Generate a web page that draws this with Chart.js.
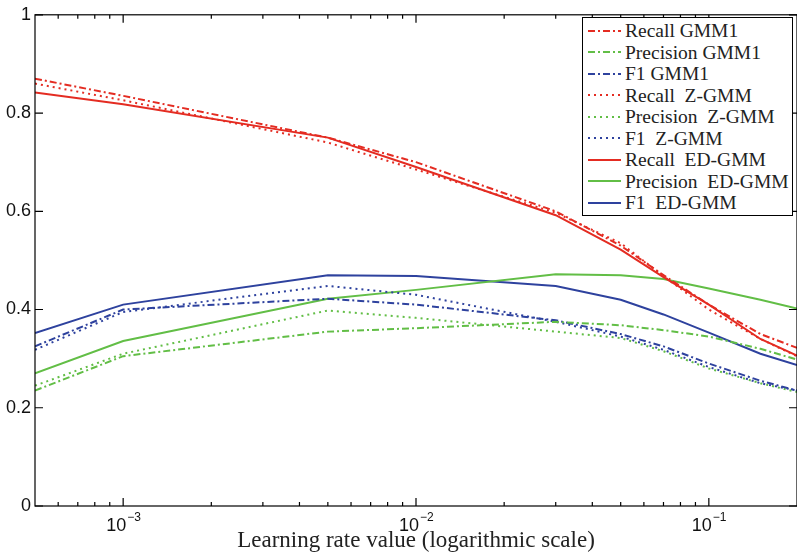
<!DOCTYPE html>
<html>
<head>
<meta charset="utf-8">
<script src="https://cdn.jsdelivr.net/npm/chart.js@4.4.0/dist/chart.umd.min.js"></script>
<style>
html, body { margin: 0; padding: 0; background: #fff; }
#wrap { position: relative; width: 797px; height: 558px; overflow: hidden; }
#legend {
    position: absolute; left: 582px; top: 17px; width: 211px; height: 199px;
    border: 1px solid #000; background: #fff; box-sizing: border-box;
    font-family: "Liberation Serif", serif; font-size: 19.5px; color: #222;
    padding-top: 2px;
}
#legend .row { height: 21.5px; line-height: 21.5px; white-space: pre; display: flex; align-items: center; }
#legend svg { margin-left: 5px; margin-right: 4px; flex: none; }
</style>
</head>
<body>
<div id="wrap">
    <canvas id="chart" width="797" height="558"></canvas>
    <div id="legend"></div>
</div>
<script>
// learning rates (x)
const xValues = [0.0005, 0.001, 0.005, 0.01, 0.03, 0.05, 0.07, 0.1, 0.15, 0.2];

// GMM1
const recallGMM1    = [0.870, 0.835, 0.750, 0.700, 0.600, 0.530, 0.470, 0.410, 0.350, 0.322];
const precisionGMM1 = [0.235, 0.305, 0.355, 0.362, 0.375, 0.368, 0.358, 0.345, 0.320, 0.298];
const f1GMM1        = [0.325, 0.400, 0.422, 0.410, 0.378, 0.350, 0.325, 0.290, 0.255, 0.235];
// Z-GMM
const recallZGMM    = [0.860, 0.826, 0.740, 0.685, 0.597, 0.535, 0.468, 0.400, 0.340, 0.305];
const precisionZGMM = [0.245, 0.310, 0.398, 0.383, 0.355, 0.342, 0.315, 0.280, 0.250, 0.232];
const f1ZGMM        = [0.318, 0.395, 0.448, 0.430, 0.375, 0.345, 0.318, 0.283, 0.250, 0.235];
// ED-GMM
const recallEDGMM    = [0.842, 0.818, 0.750, 0.690, 0.592, 0.522, 0.466, 0.410, 0.340, 0.306];
const precisionEDGMM = [0.270, 0.336, 0.422, 0.440, 0.472, 0.470, 0.462, 0.443, 0.420, 0.402];
const f1EDGMM        = [0.352, 0.410, 0.470, 0.468, 0.448, 0.420, 0.390, 0.353, 0.310, 0.287];

const seriesNames = ['Recall GMM1', 'Precision GMM1', 'F1 GMM1',
    'Recall  Z-GMM', 'Precision  Z-GMM', 'F1  Z-GMM',
    'Recall  ED-GMM', 'Precision  ED-GMM', 'F1  ED-GMM'];
const seriesValues = [recallGMM1, precisionGMM1, f1GMM1,
    recallZGMM, precisionZGMM, f1ZGMM,
    recallEDGMM, precisionEDGMM, f1EDGMM];

const yTicks = [0, 0.2, 0.4, 0.6, 0.8, 1];
const xLabelExps = [-3, -2, -1];

const RED = 'rgb(228,44,34)';
const GREEN = 'rgb(98,190,70)';
const BLUE = 'rgb(46,66,158)';
const colors = [RED, GREEN, BLUE];
const dashDot = [7, 3, 2, 3];
const dotted = [2, 4];
const styles = [dashDot, dotted, []];

const datasets = seriesValues.map(function (vals, i) {
    return {
        label: seriesNames[i],
        data: vals.map(function (v, j) { return { x: xValues[j], y: v }; }),
        borderColor: colors[i % 3],
        borderDash: styles[Math.floor(i / 3)],
        borderWidth: 2,
        pointRadius: 0,
        tension: 0,
        fill: false
    };
});

// box around the axes with inward ticks, like matlab
const boxPlugin = {
    id: 'boxPlugin',
    afterDraw(chart) {
        const ctx = chart.ctx;
        const a = chart.chartArea;
        const x = chart.scales.x, y = chart.scales.y;
        ctx.save();
        ctx.strokeStyle = '#000';
        ctx.lineWidth = 1.2;
        ctx.strokeRect(a.left, a.top, a.right - a.left, a.bottom - a.top);
        ctx.beginPath();
        yTicks.forEach(function (v) {
            const py = y.getPixelForValue(v);
            ctx.moveTo(a.left, py); ctx.lineTo(a.left + 8, py);
            ctx.moveTo(a.right, py); ctx.lineTo(a.right - 8, py);
        });
        for (let e = -4; e <= -1; e++) {
            for (let m = 1; m <= 9; m++) {
                const v = m * Math.pow(10, e);
                if (v < x.min * 1.001 || v > x.max * 0.999) continue;
                const px = x.getPixelForValue(v);
                const len = m === 1 ? 8 : 4;
                ctx.moveTo(px, a.bottom); ctx.lineTo(px, a.bottom - len);
                ctx.moveTo(px, a.top); ctx.lineTo(px, a.top + len);
            }
        }
        ctx.stroke();

        ctx.fillStyle = '#111';
        ctx.textBaseline = 'alphabetic';
        xLabelExps.forEach(function (e) {
            const px = x.getPixelForValue(Math.pow(10, e));
            ctx.font = '18px "Liberation Sans", sans-serif';
            ctx.textAlign = 'right';
            ctx.fillText('10', px + 3, a.bottom + 25);
            ctx.font = '12px "Liberation Sans", sans-serif';
            ctx.textAlign = 'left';
            ctx.fillText('\u2212' + String(-e), px + 4, a.bottom + 15);
        });
        ctx.restore();
    }
};

new Chart(document.getElementById('chart').getContext('2d'), {
    type: 'line',
    data: { datasets: datasets },
    options: {
        responsive: false,
        animation: false,
        layout: { padding: { top: 11, right: -2, left: 0, bottom: 0 } },
        plugins: { legend: { display: false }, tooltip: { enabled: false } },
        scales: {
            x: {
                type: 'logarithmic',
                min: 0.0005,
                max: 0.2,
                grid: { display: false },
                border: { display: false },
                ticks: { display: false },
                title: {
                    display: true,
                    text: 'Learning rate value (logarithmic scale)',
                    font: { family: '"Liberation Serif", serif', size: 23 },
                    color: '#222',
                    padding: { top: 0, bottom: 3 }
                },
                afterFit: function (scale) { scale.height = 52; }
            },
            y: {
                min: 0,
                max: 1,
                grid: { display: false, drawTicks: false },
                border: { display: false },
                afterBuildTicks: function (scale) {
                    scale.ticks = yTicks.map(function (v) { return { value: v }; });
                },
                ticks: {
                    padding: 4,
                    color: '#111',
                    font: { family: '"Liberation Sans", sans-serif', size: 18 },
                    callback: function (v) { return (v === 0 || v === 1) ? String(v) : v.toFixed(1); }
                },
                afterFit: function (scale) { scale.width = 35; }
            }
        }
    },
    plugins: [boxPlugin]
});

// legend drawn as html
const legend = document.getElementById('legend');
seriesNames.forEach(function (name, i) {
    const row = document.createElement('div');
    row.className = 'row';
    const dash = styles[Math.floor(i / 3)];
    const dashAttr = dash.length ? ' stroke-dasharray="' + dash.join(' ') + '"' : '';
    row.innerHTML = '<svg width="33" height="6"><line x1="0" y1="3" x2="33" y2="3" stroke="' +
        colors[i % 3] + '" stroke-width="2.2"' + dashAttr + '/></svg><span>' + name + '</span>';
    legend.appendChild(row);
});
</script>
</body>
</html>
